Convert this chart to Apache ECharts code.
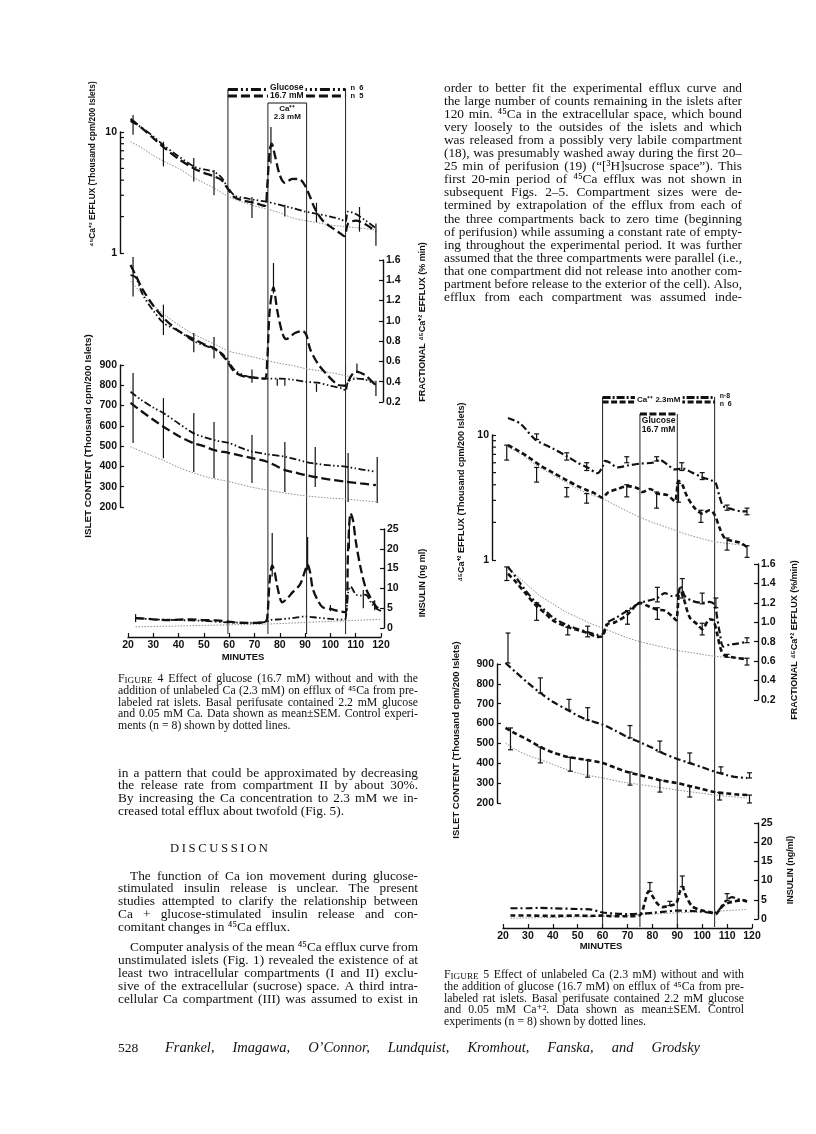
<!DOCTYPE html>
<html><head><meta charset="utf-8">
<script src="https://cdn.jsdelivr.net/npm/echarts@6/dist/echarts.min.js"></script>
<style>html,body{margin:0;padding:0;background:#fff}#c{width:816px;height:1134px}</style>
</head><body><div id="c"></div>
<script>
// ---------------- DATA ----------------
const minuteTicks = [20,30,40,50,60,70,80,90,100,110,120];
const logMinorTicks = [2,3,4,5,6,7,8,9];

// Figure 4 : glucose periods
const f4GlucosePeriod = [59.5, 106];
const f4CaPeriod = [75.3, 90.6];
// Fig 4 top : 45Ca efflux (thousand cpm / 200 islets), log scale
const f4EffluxGlu = [[21,12.3],[25,11],[30,9.2],[34,7.8],[40,6.3],[46,5.2],[50,4.9],[54,4.7],[57,4.2],[59,3.6],[62,3.0],[66,2.85],[70,2.75],[75,2.65],[80,2.5],[85,2.35],[90,2.2],[95,2.1],[100,2.0],[104,1.9],[106,1.82],[107,2.2],[110,2.1],[114,1.85],[118,1.6]];
const f4EffluxGluCa = [[21,12.8],[25,11],[30,8.9],[34,7.5],[40,6],[46,5.0],[50,4.6],[54,4.3],[57,4.0],[59,3.5],[62,2.9],[66,2.7],[70,2.6],[74,2.45],[75,3.5],[76,7.0],[76.8,8.0],[78,6.5],[80,4.4],[82,3.8],[85,4.1],[88,4.05],[90,3.6],[92,2.9],[94,2.3],[97,1.85],[100,1.65],[103,1.5],[105.5,1.38],[107,1.75],[110,1.85],[114,1.72],[118,1.5]];
const f4EffluxCtrl = [[21,8.3],[25,7.5],[30,6.4],[35,5.6],[40,5.0],[45,4.3],[50,3.8],[55,3.35],[60,2.9],[65,2.65],[70,2.45],[75,2.3],[80,2.15],[85,1.95],[90,1.85],[95,1.78],[100,1.7],[105,1.66],[110,1.62],[118,1.55]];
const f4EffluxErr = [[22,9.5,13.8],[34,5.2,8.3],[46,3.9,6.1],[54,3.0,4.85],[69,1.95,2.9],[76.5,5.5,11],[82,2.0,2.5],[94.5,1.8,2.6],[111.5,1.5,2.4],[118,1.15,1.75]];
// Fig 4 fractional efflux (%/min)
const f4FracGlu = [[21,1.45],[23,1.43],[26,1.25],[30,1.1],[34,0.98],[40,0.9],[46,0.8],[50,0.76],[54,0.72],[57,0.68],[59,0.63],[62,0.52],[66,0.46],[70,0.44],[75,0.43],[80,0.43],[85,0.42],[90,0.4],[95,0.39],[100,0.36],[105,0.33],[106,0.31],[107,0.4],[110,0.43],[114,0.42],[118,0.37]];
const f4FracGluCa = [[21,1.55],[23,1.45],[26,1.3],[30,1.15],[34,1.03],[40,0.9],[46,0.82],[50,0.77],[54,0.73],[57,0.67],[59,0.61],[62,0.5],[66,0.45],[70,0.44],[74,0.43],[75,0.6],[76,1.1],[77.5,1.33],[79,1.1],[81,0.88],[82.5,0.82],[86,0.88],[89,0.9],[90.5,0.86],[92,0.72],[95,0.58],[99,0.46],[103,0.37],[106,0.36],[108,0.45],[110,0.5],[114,0.46],[118,0.36]];
const f4FracCtrl = [[21,1.39],[25,1.28],[28,1.2],[35,1.05],[40,0.96],[45,0.88],[50,0.82],[55,0.76],[60,0.70],[65,0.67],[70,0.64],[75,0.61],[80,0.58],[85,0.56],[90,0.53],[95,0.51],[100,0.49],[106,0.46],[110,0.44],[118,0.40]];
const f4FracErr = [[22,1.24,1.63],[34,0.86,1.16],[46,0.69,0.88],[54,0.63,0.84],[69,0.39,0.52],[77.5,1.27,1.57],[79,0.36,0.43],[82,0.36,0.42],[94.5,0.3,0.38],[110.5,0.49,0.58],[118,0.26,0.41]];
// Fig 4 islet content (thousand cpm / 200 islets)
const f4IsletGlu = [[21,768],[25,730],[30,690],[34,663],[40,612],[46,563],[50,545],[55,527],[60,515],[65,490],[69,473],[75,460],[82,448],[86,436],[90,423],[95,412],[100,405],[106,399],[110,390],[114,382],[118,374]];
const f4IsletGluCa = [[21,713],[25,675],[30,630],[34,596],[40,550],[46,514],[50,500],[54,481],[60,466],[65,452],[69,441],[75,423],[79,400],[82,382],[86,370],[90,358],[96,343],[100,335],[106,325],[112,316],[118,308]];
const f4IsletCtrl = [[21,497],[30,450],[34,430],[40,395],[46,368],[52,345],[60,325],[70,295],[82,269],[90,255],[100,244],[106,239],[112,232],[118,226]];
const f4IsletErr = [[22,515,860],[34,440,737],[46,372,663],[54,343,619],[69,318,555],[82,274,520],[94,299,496],[107,225,466],[118.5,220,446]];
// Fig 4 insulin (ng/ml)
const f4InsGluCa = [[23,2.5],[30,2.2],[35,2.0],[40,2.1],[45,2.2],[50,2.0],[55,1.9],[60,1.6],[65,1.3],[70,1.3],[74,1.4],[75,2.5],[76,12],[77,15.8],[78,14],[79,10.5],[81,6.5],[83,7.5],[85,9],[88,11],[90,14.5],[91,16],[92,14],[93,10],[95,7],[97,5.2],[100,4.8],[103,4.3],[106,4.0],[107,20],[108,29],[109,27],[110,22],[112,15],[114,10],[116,7.5],[118,5.5],[120,4.5]];
const f4InsGlu = [[23,2.5],[30,2.2],[40,2.0],[50,1.8],[60,1.4],[70,1.3],[75,1.6],[76,2.0],[80,2.2],[85,2.5],[90,2.9],[95,2.6],[100,2.3],[105,2.1],[106,2.3],[107,9],[108,10.5],[110,8.5],[112,8.2],[114,8.4],[116,6.5],[118,5],[120,4.3]];
const f4InsCtrl = [[23,0.3],[40,0.5],[60,0.8],[75,1.0],[90,1.4],[105,1.8],[120,2.2]];
const f4InsErr = [[23,1.5,3.5],[77,13,24],[91,14.6,23],[100,4.2,5.8],[107.5,20,26.5],[113,5,9.6],[117.5,4.5,7]];

// Figure 5
const f5CaPeriod = [60, 105];
const f5GlucosePeriod = [75, 90];
const f5EffluxCa = [[22,13.7],[27,12.3],[33,9.2],[40,7.8],[46,6.7],[50,6.0],[54,5.5],[58,4.95],[60,5.6],[61,6.2],[63,6.0],[66,5.5],[70,5.7],[75,5.9],[80,6.0],[83,6.3],[86,5.8],[89,5.3],[92,5.4],[96,5.0],[100,4.6],[104,4.3],[105.5,4.1],[107,3.2],[108.5,2.7],[112,2.55],[116,2.45],[118,2.45]];
const f5EffluxCaGlu = [[22,8.3],[26,7.5],[30,6.7],[35,5.7],[40,5.0],[46,4.3],[50,3.9],[54,3.6],[57,3.4],[60,3.15],[62,3.45],[66,3.7],[70,3.9],[74,3.75],[76,3.5],[79,3.7],[82,3.4],[86,3.3],[89,2.95],[90.5,4.3],[92,4.0],[94,3.2],[97,2.6],[100,2.35],[103,2.5],[105,2.3],[107,1.8],[109,1.5],[112,1.42],[115,1.38],[118,1.27]];
const f5EffluxCtrl = [[22,8.0],[26,7.3],[30,6.4],[34,5.6],[40,4.8],[46,4.1],[50,3.7],[55,3.35],[60,3.1],[65,2.75],[70,2.45],[75,2.2],[80,2.0],[85,1.85],[90,1.7],[95,1.58],[100,1.48],[105,1.4],[110,1.36],[118,1.3]];
const f5EffluxErr = [[21.5,6.3,8.3],[33.5,9.2,10.2],[33.5,4.2,5.5],[45.6,6.3,7.2],[45.6,3.2,3.8],[53.6,5.2,6.0],[53.6,2.85,3.4],[69.7,6.0,6.7],[69.7,3.2,4.0],[81.7,6.2,6.7],[81.7,2.6,3.5],[90.5,2.9,4.1],[91.8,5.2,6.0],[100,4.4,5.0],[99.5,2.0,2.5],[110,2.5,2.75],[110,1.2,1.5],[118,2.3,2.6],[118,1.05,1.3]];
const f5FracCa = [[22,1.57],[25,1.47],[29,1.33],[33,1.21],[37,1.12],[40,1.05],[45,0.98],[50,0.93],[54,0.9],[58,0.87],[60,0.88],[62,1.0],[65,1.04],[70,1.12],[75,1.2],[78,1.22],[82,1.25],[85,1.3],[88,1.27],[90,1.28],[91.5,1.36],[93,1.27],[96,1.22],[100,1.2],[103,1.21],[105,1.18],[106,1.05],[107,0.9],[108.5,0.75],[111,0.77],[114,0.78],[118,0.8]];
const f5FracCaGlu = [[22,1.5],[25,1.42],[29,1.3],[33,1.18],[37,1.09],[40,1.02],[45,0.96],[50,0.92],[54,0.89],[58,0.85],[60,0.86],[62,0.98],[65,1.0],[70,1.08],[75,1.2],[78,1.17],[82,1.13],[85,1.12],[88,1.06],[89.5,1.02],[91,1.35],[92.5,1.25],[95,1.05],[98,0.98],[100,0.93],[103,1.03],[104.5,1.02],[106,0.88],[107.5,0.72],[109,0.66],[112,0.64],[118,0.62]];
const f5FracCtrl = [[22,1.55],[26,1.47],[30,1.38],[35,1.27],[40,1.19],[45,1.11],[50,1.05],[55,0.99],[60,0.94],[65,0.89],[70,0.84],[75,0.8],[80,0.77],[85,0.74],[90,0.71],[95,0.69],[100,0.67],[105,0.65],[110,0.64],[118,0.63]];
const f5FracErr = [[21.5,1.43,1.57],[33.5,1.02,1.2],[46,0.87,0.95],[54,0.85,0.96],[70,0.98,1.12],[82,1.21,1.36],[82,1.03,1.15],[92,1.25,1.45],[100,1.19,1.3],[100,0.87,0.99],[105.5,1.15,1.25],[110,0.64,0.67],[118,0.79,0.84],[118,0.56,0.63]];
const f5IsletCa = [[21,905],[25,860],[30,805],[35,754],[40,710],[46,668],[50,640],[54,618],[60,595],[65,565],[70,532],[75,506],[80,478],[83,457],[90,422],[95,401],[100,380],[105,358],[110,340],[114,330],[118,326]];
const f5IsletCaGlu = [[21,578],[25,550],[30,518],[35,482],[40,455],[46,432],[50,424],[54,416],[60,401],[65,378],[70,356],[75,340],[80,325],[83,315],[90,300],[95,285],[100,270],[105,255],[110,248],[114,243],[118,240]];
const f5IsletCtrl = [[21,502],[25,470],[30,440],[35,418],[40,395],[46,366],[52,345],[60,326],[68,305],[75,293],[82,280],[90,265],[98,252],[105,240],[112,232],[118,225]];
const f5IsletErr = [[22,905,1056],[35,754,830],[46.5,668,722],[54,618,680],[71,528,590],[83,457,512],[95,401,452],[107.5,352,382],[119,326,352],[23,468,578],[35,402,482],[47,360,430],[54,330,416],[71,290,356],[83,255,315],[95,230,285],[107,215,253],[119,200,240]];
const f5InsCa = [[23,2.8],[30,2.8],[35,2.9],[40,2.8],[50,2.6],[55,2.5],[60,1.7],[65,1.4],[70,1.3],[75,1.4],[80,1.6],[85,1.9],[90,2.2],[95,2.1],[100,1.9],[104,1.6],[106,1.8],[108,3.5],[110,5.0],[112,5.7],[114,5.2],[116,5.0],[118,4.7]];
const f5InsCaGlu = [[23,0.9],[30,0.9],[40,0.8],[50,0.9],[55,0.8],[60,0.9],[65,0.7],[70,0.7],[75,1.0],[77,4.5],[78.5,7.2],[80,6.0],[82,4.0],[84,3.1],[87,3.5],[89.5,4.0],[91,7],[92,8.4],[93.5,6],[96,3.3],[100,2.2],[103,1.8],[105.5,1.3],[107,2.5],[109,3.8],[111,4.3],[113,4.6],[116,4.9],[118,4.5]];
const f5InsCtrl = [[23,0.2],[40,0.4],[60,0.7],[75,1.1],[90,1.6],[105,2.0],[118,2.5]];
const f5InsErr = [[79,7.2,9.5],[87,3.5,4.6],[92,8.4,11.2],[110,4.8,6.6]];

// Text
const colRightLines = [
"order to better fit the experimental efflux curve and",
"the large number of counts remaining in the islets after",
"120 min. ⁴⁵Ca in the extracellular space, which bound",
"very loosely to the outsides of the islets and which",
"was released from a possibly very labile compartment",
"(18), was presumably washed away during the first 20–",
"25 min of perifusion (19) (“[³H]sucrose space”). This",
"first 20-min period of ⁴⁵Ca efflux was not shown in",
"subsequent Figs. 2–5. Compartment sizes were de-",
"termined by extrapolation of the efflux from each of",
"the three compartments back to zero time (beginning",
"of perifusion) while assuming a constant rate of empty-",
"ing throughout the experimental period. It was further",
"assumed that the three compartments were parallel (i.e.,",
"that one compartment did not release into another com-",
"partment before release to the exterior of the cell). Also,",
"efflux from each compartment was assumed inde-"];
const cap4Lines = [
"FIGURE 4 Effect of glucose (16.7 mM) without and with the",
"addition of unlabeled Ca (2.3 mM) on efflux of ⁴⁵Ca from pre-",
"labeled rat islets. Basal perifusate contained 2.2 mM glucose",
"and 0.05 mM Ca. Data shown as mean±SEM. Control experi-",
"ments (n = 8) shown by dotted lines."];
const leftParaLines = [
"in a pattern that could be approximated by decreasing",
"the release rate from compartment II by about 30%.",
"By increasing the Ca concentration to 2.3 mM we in-",
"creased total efflux about twofold (Fig. 5)."];
const disc1Lines = [
"The function of Ca ion movement during glucose-",
"stimulated insulin release is unclear. The present",
"studies attempted to clarify the relationship between",
"Ca + glucose-stimulated insulin release and con-",
"comitant changes in ⁴⁵Ca efflux."];
const disc2Lines = [
"Computer analysis of the mean ⁴⁵Ca efflux curve from",
"unstimulated islets (Fig. 1) revealed the existence of at",
"least two intracellular compartments (I and II) exclu-",
"sive of the extracellular (sucrose) space. A third intra-",
"cellular Ca compartment (III) was assumed to exist in"];
const cap5Lines = [
"FIGURE 5 Effect of unlabeled Ca (2.3 mM) without and with",
"the addition of glucose (16.7 mM) on efflux of ⁴⁵Ca from pre-",
"labeled rat islets. Basal perifusate contained 2.2 mM glucose",
"and 0.05 mM Ca⁺². Data shown as mean±SEM. Control",
"experiments (n = 8) shown by dotted lines."];

// ---------------- HELPERS ----------------
const SERIF = '"Liberation Serif", "DejaVu Serif", serif';
const SANS = '"Liberation Sans", Arial, sans-serif';
const INK = '#111111';
const mctx = document.createElement('canvas').getContext('2d');
function tw(t, size, st, fam) { mctx.font = (st ? st + ' ' : '') + size + 'px ' + (fam || SERIF); return mctx.measureText(t).width; }
function wordW(w, size, st, fam) { return w === 'FIGURE' ? tw('F', size, st, fam) + tw('IGURE', size * 0.78, st, fam) : tw(w, size, st, fam); }
// largest font size such that every justified line keeps at least minGap between words
function fitSize(blocks, width, minGap, maxSize) {
  let s = maxSize;
  blocks.forEach(b => b.lines.forEach((ln, i) => {
    if (i === b.lines.length - 1 && !b.justifyLast) return;
    const words = ln.split(' ');
    const w12 = words.reduce((a, w) => a + wordW(w, 12), 0);
    const avail = width - (i === 0 ? (b.indent || 0) : 0) - minGap * (words.length - 1);
    s = Math.min(s, 12 * avail / w12);
  }));
  return s;
}
function textEl(w, x, y, size, st, fam) {
  const F = fam || SERIF;
  if (w === 'FIGURE') {
    return {type:'text', x, y, silent:true, style:{text:'{a|F}{b|IGURE}', rich:{a:{fontSize:size, fontFamily:F, fill:INK, verticalAlign:'bottom'}, b:{fontSize:size*0.78, fontFamily:F, fill:INK, verticalAlign:'bottom'}}, verticalAlign:'middle', textVerticalAlign:'middle'}};
  }
  return {type:'text', x, y, silent:true, style:{text:w, font:(st ? st + ' ' : '') + size + 'px ' + F, fill:INK, verticalAlign:'middle', textVerticalAlign:'middle'}};
}
function para(lines, o) {
  const els = [];
  lines.forEach((ln, i) => {
    const indent = i === 0 ? (o.indent || 0) : 0;
    const words = ln.split(' ');
    const ws = words.map(w => wordW(w, o.size, o.style, o.fam));
    const total = ws.reduce((a, b) => a + b, 0);
    const last = i === lines.length - 1 && !o.justifyLast;
    const gap = (!last && words.length > 1) ? (o.width - indent - total) / (words.length - 1) : tw(' ', o.size, o.style, o.fam);
    let x = o.x + indent; const y = o.y + i * o.lh;
    words.forEach((w, k) => { els.push(textEl(w, x, y, o.size, o.style, o.fam)); x += ws[k] + gap; });
  });
  return els;
}
function vname(text, x, y, size) {
  return {type:'text', x, y, rotation:Math.PI/2, silent:true, style:{text, font:'bold ' + size + 'px ' + SANS, fill:INK, align:'center', textAlign:'center', verticalAlign:'middle', textVerticalAlign:'middle'}};
}
function hname(text, x, y, size) {
  return {type:'text', x, y, silent:true, style:{text, font:'bold ' + size + 'px ' + SANS, fill:INK, align:'center', textAlign:'center', verticalAlign:'middle', textVerticalAlign:'middle'}};
}

const S4glu = {color:INK, width:1.8, type:[7,2.5,1.5,2.5,1.5,2.5]};
const S4ca = {color:INK, width:2.3, type:[9,4]};
const Sctrl = {color:'#8f8f8f', width:1, type:[1.5,1.5]};
const S5ca = {color:INK, width:2.2, type:[7,3,2,3]};
const S5glu = {color:INK, width:2.6, type:[5,3]};

function line(data, ai, style) {
  return {type:'line', xAxisIndex:ai, yAxisIndex:ai, data, symbol:'none', showSymbol:false, smooth:0.3, clip:false, silent:true, lineStyle:style, z:3};
}
function errSeries(data, ai, cap) {
  return {type:'custom', xAxisIndex:ai, yAxisIndex:ai, data, silent:true, z:4,
    renderItem: function (params, api) {
      const x = api.value(0), a = api.coord([x, api.value(1)]), b = api.coord([x, api.value(2)]);
      const st = {stroke:INK, lineWidth:1.2};
      const ch = [{type:'line', shape:{x1:a[0], y1:a[1], x2:b[0], y2:b[1]}, style:st}];
      if (cap) {
        ch.push({type:'line', shape:{x1:b[0]-cap, y1:b[1], x2:b[0]+cap, y2:b[1]}, style:st});
        ch.push({type:'line', shape:{x1:a[0]-cap, y1:a[1], x2:a[0]+cap, y2:a[1]}, style:st});
      }
      return {type:'group', children:ch};
    }};
}
function minorTicks(ai) {
  return {type:'custom', xAxisIndex:ai, yAxisIndex:ai, data:logMinorTicks.map(v => [20, v]), silent:true, z:5,
    renderItem: function (params, api) {
      const p = api.coord([api.value(0), api.value(1)]);
      const ax = params.coordSys.x - (ai === 1 ? 8 : 11);
      return {type:'line', shape:{x1:ax, y1:p[1], x2:ax + 4, y2:p[1]}, style:{stroke:INK, lineWidth:1.2}};
    }};
}
function hseg(x1, x2, y, w, dash) { return {type:'line', shape:{x1, y1:y, x2, y2:y}, style:{stroke:INK, lineWidth:w, lineDash:dash || null}}; }
function vseg(x, y1, y2) { return {type:'line', shape:{x1:x, y1, x2:x, y2}, style:{stroke:'#202020', lineWidth:1}}; }
function ctext(t, x, y, size, bg, align) {
  return {type:'text', style:{text:t, x, y, font:'bold ' + size + 'px ' + SANS, fill:INK, align:align || 'center', textAlign:align || 'center', verticalAlign:'middle', textVerticalAlign:'middle', backgroundColor:bg ? '#fff' : null, padding:bg ? [0,2] : 0}};
}
function overlay4(params, api) {
  const cs = params.coordSys, X = v => api.coord([v, 0])[0];
  const g0 = X(f4GlucosePeriod[0]), g1 = X(f4GlucosePeriod[1]), c0 = X(f4CaPeriod[0]), c1 = X(f4CaPeriod[1]);
  const yT = cs.y, yB = cs.y + cs.height, gm = (g0 + g1) / 2, cm = (c0 + c1) / 2;
  return {type:'group', children:[
    vseg(g0, yT, yB), vseg(g1, yT, yB), vseg(c0, yT + 14, yB), vseg(c1, yT + 14, yB),
    hseg(g0, g1, yT + 0.5, 3, [10,3,2,3,2,3]), hseg(g0, g1, yT + 7, 3, [9,4]), hseg(c0, c1, yT + 14, 1),
    ctext('Glucose', gm, yT - 1, 8.5, true), ctext('16.7 mM', gm, yT + 6.5, 8.5, true),
    ctext('Ca⁺⁺', cm, yT + 20, 8), ctext('2.3 mM', cm, yT + 28, 8),
    ctext('n  6', g1 + 5, yT - 1, 7.5, false, 'left'), ctext('n  5', g1 + 5, yT + 7, 7.5, false, 'left')
  ]};
}
function overlay5(params, api) {
  const cs = params.coordSys, X = v => api.coord([v, 0])[0];
  const c0 = X(f5CaPeriod[0]), c1 = X(f5CaPeriod[1]), g0 = X(f5GlucosePeriod[0]), g1 = X(f5GlucosePeriod[1]);
  const yT = cs.y, yB = cs.y + cs.height, gm = (g0 + g1) / 2, cm = (c0 + c1) / 2;
  return {type:'group', children:[
    vseg(c0, yT, yB), vseg(c1, yT, yB), vseg(g0, yT + 17, yB), vseg(g1, yT + 17, yB),
    hseg(c0, c1, yT + 0.5, 3, [8,2,2,2]), hseg(c0, c1, yT + 5, 3, [6,2.5]),
    ctext('Ca⁺⁺ 2.3mM', cm, yT + 3, 8, true),
    hseg(g0, g1, yT + 17, 3, [7,2.5]),
    ctext('Glucose', gm, yT + 24, 8.5), ctext('16.7 mM', gm, yT + 33, 8.5),
    ctext('n·8', c1 + 5, yT - 1, 7, false, 'left'), ctext('n  6', c1 + 5, yT + 7, 7, false, 'left')
  ]};
}

// ---------------- CHART ----------------
const labelFont = {fontFamily:SANS, fontWeight:'bold', fontSize:10.5, color:INK};
function yAx(gi, o) {
  return Object.assign({gridIndex:gi, type:'value', axisLine:{show:true, lineStyle:{color:INK, width:1.4}},
    axisTick:{show:true, inside:true, length:4, lineStyle:{color:INK, width:1.2}},
    axisLabel:Object.assign({margin:3}, labelFont), splitLine:{show:false}}, o);
}
function xAx(gi, show) {
  return {gridIndex:gi, type:'value', min:20, max:120, interval:10, show:show, position:'bottom', offset:9,
    axisLine:{show:true, onZero:false, lineStyle:{color:INK, width:1.4}},
    axisTick:{show:true, inside:true, length:4, lineStyle:{color:INK, width:1.2}},
    axisLabel:Object.assign({margin:3}, labelFont), splitLine:{show:false}};
}
function grid(l, t, w, h) { return {left:l, top:t, width:w, height:h, containLabel:false, outerBoundsMode:'none'}; }

const grids = [
  grid(128, 89, 253, 545), grid(128, 132, 253, 121), grid(128, 260, 253, 142), grid(128, 365, 253, 142), grid(128, 529, 253, 99),
  grid(503, 397, 249, 530), grid(503, 435, 249, 125), grid(503, 564, 249, 136), grid(503, 664, 249, 139), grid(503, 823, 249, 96)
];
const xAxes = grids.map((g, i) => xAx(i, i === 4 || i === 9));
const fmt1 = v => v.toFixed(1);
const yAxes = [
  yAx(0, {show:false, min:0, max:1}),
  yAx(1, {type:'log', logBase:10, min:1, max:10, position:'left', offset:8}),
  yAx(2, {min:0.2, max:1.6, interval:0.2, position:'right', offset:2, axisLabel:Object.assign({margin:3, formatter:fmt1}, labelFont)}),
  yAx(3, {min:200, max:900, interval:100, position:'left', offset:8}),
  yAx(4, {min:0, max:25, interval:5, position:'right', offset:3}),
  yAx(5, {show:false, min:0, max:1}),
  yAx(6, {type:'log', logBase:10, min:1, max:10, position:'left', offset:11}),
  yAx(7, {min:0.2, max:1.6, interval:0.2, position:'right', offset:6, axisLabel:Object.assign({margin:3, formatter:fmt1}, labelFont)}),
  yAx(8, {min:200, max:900, interval:100, position:'left', offset:6}),
  yAx(9, {min:0, max:25, interval:5, position:'right', offset:6})
];

const series = [
  {type:'custom', xAxisIndex:0, yAxisIndex:0, data:[[20, 0]], renderItem:overlay4, silent:true, z:2},
  {type:'custom', xAxisIndex:5, yAxisIndex:5, data:[[20, 0]], renderItem:overlay5, silent:true, z:2},
  minorTicks(1), minorTicks(6),
  line(f4EffluxCtrl, 1, Sctrl), line(f4EffluxGlu, 1, S4glu), line(f4EffluxGluCa, 1, S4ca), errSeries(f4EffluxErr, 1, 0),
  line(f4FracCtrl, 2, Sctrl), line(f4FracGlu, 2, S4glu), line(f4FracGluCa, 2, S4ca), errSeries(f4FracErr, 2, 0),
  line(f4IsletCtrl, 3, Sctrl), line(f4IsletGlu, 3, S4glu), line(f4IsletGluCa, 3, S4ca), errSeries(f4IsletErr, 3, 0),
  line(f4InsCtrl, 4, Sctrl), line(f4InsGlu, 4, S4glu), line(f4InsGluCa, 4, S4ca), errSeries(f4InsErr, 4, 0),
  line(f5EffluxCtrl, 6, Sctrl), line(f5EffluxCa, 6, S5ca), line(f5EffluxCaGlu, 6, S5glu), errSeries(f5EffluxErr, 6, 2.5),
  line(f5FracCtrl, 7, Sctrl), line(f5FracCa, 7, S5ca), line(f5FracCaGlu, 7, S5glu), errSeries(f5FracErr, 7, 2.5),
  line(f5IsletCtrl, 8, Sctrl), line(f5IsletCa, 8, S5ca), line(f5IsletCaGlu, 8, S5glu), errSeries(f5IsletErr, 8, 2.5),
  line(f5InsCtrl, 9, Sctrl), line(f5InsCa, 9, S5ca), line(f5InsCaGlu, 9, S5glu), errSeries(f5InsErr, 9, 2.5)
];

const bodySize = fitSize([
  {lines:colRightLines, justifyLast:true}, {lines:leftParaLines},
  {lines:disc1Lines, indent:12}, {lines:disc2Lines, indent:12, justifyLast:true}], 298, 2.8, 13.4);
const capSize = fitSize([{lines:cap4Lines}, {lines:cap5Lines}], 300, 2.4, 11.8);
let graphics = [];
graphics = graphics.concat(para(colRightLines, {x:444, y:88, width:298, lh:13.1, size:bodySize, justifyLast:true}));
graphics = graphics.concat(para(cap4Lines, {x:118, y:679, width:300, lh:11.75, size:capSize}));
graphics = graphics.concat(para(leftParaLines, {x:118, y:773, width:300, lh:12.7, size:bodySize}));
graphics = graphics.concat(para(['D I S C U S S I O N'], {x:170, y:849, width:98, lh:13, size:bodySize * 0.95, justifyLast:true}));
graphics = graphics.concat(para(disc1Lines, {x:118, y:876, width:300, lh:12.75, size:bodySize, indent:12}));
graphics = graphics.concat(para(disc2Lines, {x:118, y:947, width:300, lh:13, size:bodySize, indent:12, justifyLast:true}));
graphics = graphics.concat(para(cap5Lines, {x:444, y:975, width:300, lh:11.75, size:capSize}));
graphics = graphics.concat(para(['528'], {x:118, y:1048, width:30, lh:13, size:13.5}));
graphics = graphics.concat(para(['Frankel, Imagawa, O’Connor, Lundquist, Kromhout, Fanska, and Grodsky'], {x:165, y:1048, width:535, lh:13, size:14.5, style:'italic', justifyLast:true}));
graphics.push(vname('⁴⁵Ca⁺² EFFLUX (Thousand cpm/200 Islets)', 93, 164, 8.3));
graphics.push(vname('ISLET CONTENT (Thousand cpm/200 Islets)', 88, 436, 9.8));
graphics.push(vname('FRACTIONAL ⁴⁵Ca⁺² EFFLUX (% min)', 423, 322, 9));
graphics.push(vname('INSULIN (ng ml)', 423, 583, 9));
graphics.push(hname('MINUTES', 243, 657, 9.5));
graphics.push(vname('⁴⁵Ca⁺² EFFLUX (Thousand cpm/200 Islets)', 462, 492, 9));
graphics.push(vname('ISLET CONTENT (Thousand cpm/200 Islets)', 456, 740, 9.5));
graphics.push(vname('FRACTIONAL ⁴⁵Ca⁺² EFFLUX (%/min)', 795, 640, 9));
graphics.push(vname('INSULIN (ng/ml)', 791, 870, 9));
graphics.push(hname('MINUTES', 601, 946, 9.5));

const chart = echarts.init(document.getElementById('c'), null, {renderer:'canvas'});
chart.setOption({
  backgroundColor:'#ffffff', animation:false,
  grid:grids, xAxis:xAxes, yAxis:yAxes, series:series,
  graphic:{elements:graphics}
});
</script></body></html>
